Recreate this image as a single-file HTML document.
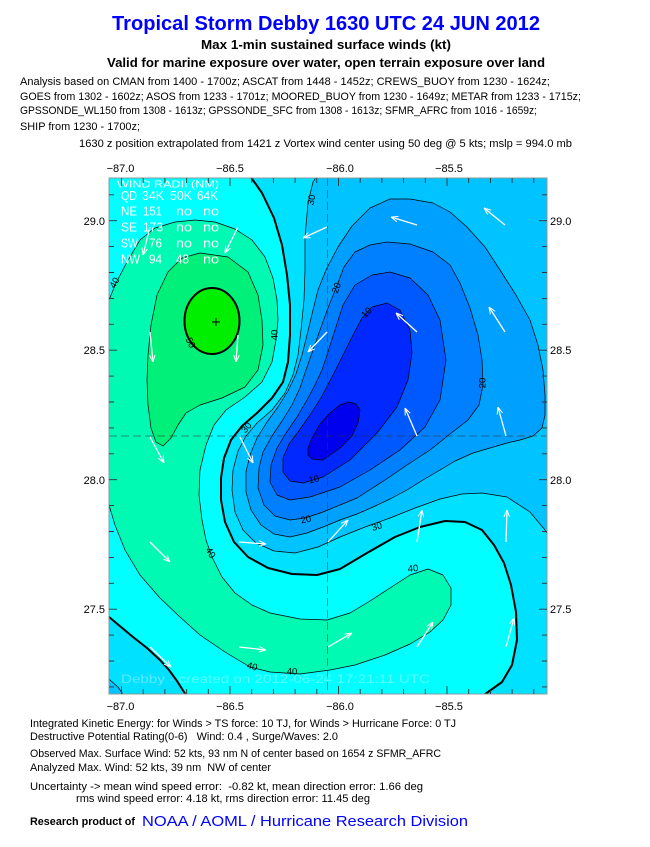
<!DOCTYPE html>
<html><head><meta charset="utf-8"><style>html,body{margin:0;padding:0;background:#fff}svg{display:block}</style></head>
<body>
<svg width="650" height="847" viewBox="0 0 650 847" xmlns="http://www.w3.org/2000/svg" font-family="'Liberation Sans', sans-serif">
<defs>
<clipPath id="pc"><rect x="109" y="178" width="438" height="516"/></clipPath>
<marker id="ah" viewBox="0 0 10 10" refX="10" refY="5" markerWidth="7" markerHeight="7" markerUnits="userSpaceOnUse" orient="auto"><path d="M0,1 L10,5 L0,9" fill="none" stroke="#fff" stroke-width="1.4"/></marker>
</defs>
<rect width="650" height="847" fill="#fff"/>

<!-- titles -->
<text x="112" y="30" font-size="20" font-weight="bold" fill="#0000ff" textLength="428" lengthAdjust="spacingAndGlyphs">Tropical Storm Debby 1630 UTC 24 JUN 2012</text>
<text x="201" y="49" font-size="13" font-weight="bold" fill="#000" textLength="250" lengthAdjust="spacingAndGlyphs">Max 1-min sustained surface winds (kt)</text>
<text x="107" y="67" font-size="13" font-weight="bold" fill="#000" textLength="438" lengthAdjust="spacingAndGlyphs">Valid for marine exposure over water, open terrain exposure over land</text>
<g font-size="11" fill="#000">
<text x="20" y="85" textLength="530" lengthAdjust="spacingAndGlyphs">Analysis based on CMAN from 1400 - 1700z; ASCAT from 1448 - 1452z; CREWS_BUOY from 1230 - 1624z;</text>
<text x="20" y="100" textLength="561" lengthAdjust="spacingAndGlyphs">GOES from 1302 - 1602z; ASOS from 1233 - 1701z; MOORED_BUOY from 1230 - 1649z; METAR from 1233 - 1715z;</text>
<text x="20" y="114" textLength="517" lengthAdjust="spacingAndGlyphs">GPSSONDE_WL150 from 1308 - 1613z; GPSSONDE_SFC from 1308 - 1613z; SFMR_AFRC from 1016 - 1659z;</text>
<text x="20" y="130" textLength="120" lengthAdjust="spacingAndGlyphs">SHIP from 1230 - 1700z;</text>
<text x="79" y="147" textLength="493" lengthAdjust="spacingAndGlyphs">1630 z position extrapolated from 1421 z Vortex wind center using 50 deg @ 5 kts; mslp = 994.0 mb</text>
</g>

<!-- plot fills -->
<g clip-path="url(#pc)">
<rect x="109" y="178" width="438" height="516" fill="#00ffff"/>
<polygon fill="#00e0ff" points="250,176 262,193 274,218 282,245 287,275 290,305 290,335 288,362 283,382 272,398 257,413 242,426 231,440 224,458 221,478 221,500 225,522 234,542 248,557 268,568 292,574 317,575 340,569 367,553 395,537 420,527 445,521 465,522 482,530 494,545 504,563 511,585 516,612 517,640 512,665 502,682 488,692 477,700 560,700 560,170 247,170"/>
<polygon fill="#00e0ff" points="100,605 109,617 121,627 133,637 147,648 160,660 169,670 177,681 184,692 189,700 100,700"/>
<polygon fill="#00c3ff" points="321,170 313,182 308,203 305,237 305,270 304,300 301,330 298,355 293,375 285,393 272,410 257,423 246,436 238,451 233,470 232,490 235,512 243,530 256,543 274,551 295,553 318,547 340,537 365,527 390,518 415,508 440,499 462,494 482,493 507,497 530,512 545,530 556,548 560,548 560,170"/>
<polygon fill="#00c3ff" points="100,672 110,680 118,687 127,700 100,700"/>
<polygon fill="#00a0ff" points="390,199 410,199 433,203 450,212 467,227 485,247 500,270 516,295 530,320 538,345 543,370 545,395 545,415 542,428 533,436 520,440 507,443 490,448 473,453 455,461 440,470 423,480 407,490 390,499 373,507 357,514 340,520 323,527 307,533 290,537 274,534 261,525 251,510 246,492 246,472 250,455 257,438 267,422 278,407 288,391 296,374 302,355 307,335 313,310 318,290 326,270 338,247 352,226 370,208"/>
<polygon fill="#0080ff" points="387,242 410,244 433,252 450,265 460,283 470,308 478,335 482,360 483,385 479,405 468,420 450,434 430,450 407,465 385,480 357,498 323,512 305,518 290,520 275,516 264,505 258,488 259,468 263,452 272,436 282,421 292,405 300,388 306,370 313,350 320,330 328,308 336,288 344,267 355,252 370,245"/>
<polygon fill="#0058ff" points="390,272 410,278 428,295 440,320 446,360 440,400 425,427 400,450 370,470 340,487 310,497 290,500 277,495 270,482 271,465 277,448 286,433 297,417 307,400 315,385 322,370 328,352 335,330 343,305 355,285 372,275"/>
<polygon fill="#0028ff" points="387,303 400,310 410,330 412,353 408,380 397,407 377,433 350,460 323,477 303,483 290,481 283,472 283,458 289,444 298,432 310,415 322,396 333,375 342,357 352,337 362,318 372,307"/>
<polygon fill="#0000ee" points="308,455 312,459 323,460 340,448 352,436 358,423 360,410 356,404 349,402 340,405 330,413 320,424 312,438 308,448"/>
<polygon fill="#00fab4" points="100,305 109,300 116,283 127,262 140,240 155,228 175,222 195,220 215,222 235,229 252,240 265,257 273,278 277,300 278,320 276,340 272,362 262,382 245,397 226,410 214,425 206,445 200,470 199,495 202,520 206,540 212,557 222,577 235,593 252,605 270,613 300,619 327,620 350,613 370,601 390,588 410,575 428,569 443,575 451,588 451,605 443,620 430,632 410,644 385,655 355,665 330,670 300,674 270,672 250,667 225,652 200,635 180,617 160,598 140,575 125,550 115,525 109,505 100,490"/>
<polygon fill="#00f07a" points="200,253 228,257 248,272 258,295 262,320 263,345 258,370 245,387 222,398 200,405 186,413 178,425 171,438 163,446 156,442 151,428 148,405 147,380 148,355 151,325 157,295 168,272 182,258"/>
<ellipse cx="212" cy="321" rx="27.5" ry="33" fill="#00ee00"/>

<!-- contour lines -->
<g fill="none" stroke="#000" stroke-width="0.7" stroke-linejoin="round">
<polyline points="321,170 313,182 308,203 305,237 305,270 304,300 301,330 298,355 293,375 285,393 272,410 257,423 246,436 238,451 233,470 232,490 235,512 243,530 256,543 274,551 295,553 318,547 340,537 365,527 390,518 415,508 440,499 462,494 482,493 507,497 530,512 545,530 556,548"/>
<polyline points="100,672 110,680 118,687 127,700"/>
<polygon points="390,199 410,199 433,203 450,212 467,227 485,247 500,270 516,295 530,320 538,345 543,370 545,395 545,415 542,428 533,436 520,440 507,443 490,448 473,453 455,461 440,470 423,480 407,490 390,499 373,507 357,514 340,520 323,527 307,533 290,537 274,534 261,525 251,510 246,492 246,472 250,455 257,438 267,422 278,407 288,391 296,374 302,355 307,335 313,310 318,290 326,270 338,247 352,226 370,208"/>
<polygon points="387,242 410,244 433,252 450,265 460,283 470,308 478,335 482,360 483,385 479,405 468,420 450,434 430,450 407,465 385,480 357,498 323,512 305,518 290,520 275,516 264,505 258,488 259,468 263,452 272,436 282,421 292,405 300,388 306,370 313,350 320,330 328,308 336,288 344,267 355,252 370,245"/>
<polygon points="390,272 410,278 428,295 440,320 446,360 440,400 425,427 400,450 370,470 340,487 310,497 290,500 277,495 270,482 271,465 277,448 286,433 297,417 307,400 315,385 322,370 328,352 335,330 343,305 355,285 372,275"/>
<polygon points="387,303 400,310 410,330 412,353 408,380 397,407 377,433 350,460 323,477 303,483 290,481 283,472 283,458 289,444 298,432 310,415 322,396 333,375 342,357 352,337 362,318 372,307"/>
<polygon points="308,455 312,459 323,460 340,448 352,436 358,423 360,410 356,404 349,402 340,405 330,413 320,424 312,438 308,448"/>
<polyline points="100,305 109,300 116,283 127,262 140,240 155,228 175,222 195,220 215,222 235,229 252,240 265,257 273,278 277,300 278,320 276,340 272,362 262,382 245,397 226,410 214,425 206,445 200,470 199,495 202,520 206,540 212,557 222,577 235,593 252,605 270,613 300,619 327,620 350,613 370,601 390,588 410,575 428,569 443,575 451,588 451,605 443,620 430,632 410,644 385,655 355,665 330,670 300,674 270,672 250,667 225,652 200,635 180,617 160,598 140,575 125,550 115,525 109,505 100,490"/>
<polygon points="200,253 228,257 248,272 258,295 262,320 263,345 258,370 245,387 222,398 200,405 186,413 178,425 171,438 163,446 156,442 151,428 148,405 147,380 148,355 151,325 157,295 168,272 182,258"/>
</g>
<g fill="none" stroke="#000" stroke-width="2" stroke-linejoin="round">
<polyline points="250,176 262,193 274,218 282,245 287,275 290,305 290,335 288,362 283,382 272,398 257,413 242,426 231,440 224,458 221,478 221,500 225,522 234,542 248,557 268,568 292,574 317,575 340,569 367,553 395,537 420,527 445,521 465,522 482,530 494,545 504,563 511,585 516,612 517,640 512,665 502,682 488,692 477,700"/>
<polyline points="100,605 109,617 121,627 133,637 147,648 160,660 169,670 177,681 184,692 189,700"/>
<ellipse cx="212" cy="321" rx="27.5" ry="33"/>
</g>
<path d="M212 322h8M216 318v8" stroke="#000" stroke-width="1"/>

<!-- contour labels -->
<g font-size="9.5" fill="#000" text-anchor="middle" dominant-baseline="central">
<text transform="translate(115,283) rotate(-60)">40</text>
<text transform="translate(275,335) rotate(-90)">40</text>
<text transform="translate(190,343) rotate(65)">50</text>
<text transform="translate(312,200) rotate(-80)">30</text>
<text transform="translate(337,288) rotate(-70)">20</text>
<text transform="translate(367,313) rotate(-45)">10</text>
<text transform="translate(483,383) rotate(-90)">20</text>
<text transform="translate(247,428) rotate(-50)">30</text>
<text transform="translate(314,480) rotate(-12)">10</text>
<text transform="translate(306,520) rotate(-12)">20</text>
<text transform="translate(377,527) rotate(-18)">30</text>
<text transform="translate(210,553) rotate(60)">40</text>
<text transform="translate(252,667) rotate(15)">40</text>
<text transform="translate(292,672)">40</text>
<text transform="translate(413,569) rotate(-5)">40</text>
</g>

<!-- dashed center lines -->
<g stroke="#333" stroke-width="0.8" stroke-dasharray="8,4" opacity="0.7">
<line x1="327.5" y1="178" x2="327.5" y2="694"/>
<line x1="109" y1="436" x2="547" y2="436"/>
</g>

<!-- wind arrows -->
<g stroke="#fff" stroke-width="1.3" marker-end="url(#ah)">
<line x1="150" y1="227" x2="143" y2="255"/>
<line x1="238" y1="227" x2="225" y2="253"/>
<line x1="327" y1="227" x2="303" y2="238"/>
<line x1="417" y1="225" x2="391" y2="217"/>
<line x1="505" y1="225" x2="484" y2="208"/>
<line x1="150" y1="332" x2="153" y2="362"/>
<line x1="238" y1="335" x2="236" y2="362"/>
<line x1="327" y1="332" x2="308" y2="352"/>
<line x1="417" y1="332" x2="396" y2="313"/>
<line x1="505" y1="332" x2="489" y2="307"/>
<line x1="150" y1="437" x2="164" y2="463"/>
<line x1="240" y1="437" x2="253" y2="463"/>
<line x1="417" y1="436" x2="405" y2="408"/>
<line x1="506" y1="436" x2="498" y2="407"/>
<line x1="150" y1="542" x2="170" y2="562"/>
<line x1="239" y1="542" x2="266" y2="544"/>
<line x1="328" y1="542" x2="348" y2="520"/>
<line x1="417" y1="542" x2="422" y2="510"/>
<line x1="506" y1="542" x2="507" y2="510"/>
<line x1="150" y1="647" x2="171" y2="667"/>
<line x1="239" y1="647" x2="266" y2="650"/>
<line x1="328" y1="647" x2="352" y2="633"/>
<line x1="417" y1="647" x2="433" y2="622"/>
<line x1="506" y1="647" x2="514" y2="618"/>
</g>

<!-- wind radii table -->
<g fill="#fff" font-size="12.5">
<text x="117" y="187.5" font-size="10.5" textLength="102" lengthAdjust="spacingAndGlyphs">WIND RADII (NM)</text>
<text x="121" y="200" textLength="16" lengthAdjust="spacingAndGlyphs">QD</text><text x="142" y="200" textLength="22" lengthAdjust="spacingAndGlyphs">34K</text><text x="170" y="200" textLength="22" lengthAdjust="spacingAndGlyphs">50K</text><text x="197" y="200" textLength="21" lengthAdjust="spacingAndGlyphs">64K</text>
<text x="121" y="215.5" textLength="16" lengthAdjust="spacingAndGlyphs">NE</text><text x="143" y="215.5" textLength="19" lengthAdjust="spacingAndGlyphs">151</text><text x="176" y="215.5" textLength="16" lengthAdjust="spacingAndGlyphs">no</text><text x="203" y="215.5" textLength="16" lengthAdjust="spacingAndGlyphs">no</text>
<text x="121" y="231.5" textLength="16" lengthAdjust="spacingAndGlyphs">SE</text><text x="143" y="231.5" textLength="20" lengthAdjust="spacingAndGlyphs">173</text><text x="176" y="231.5" textLength="16" lengthAdjust="spacingAndGlyphs">no</text><text x="203" y="231.5" textLength="16" lengthAdjust="spacingAndGlyphs">no</text>
<text x="121" y="247.5" textLength="17" lengthAdjust="spacingAndGlyphs">SW</text><text x="149" y="247.5" textLength="13" lengthAdjust="spacingAndGlyphs">76</text><text x="176" y="247.5" textLength="16" lengthAdjust="spacingAndGlyphs">no</text><text x="203" y="247.5" textLength="16" lengthAdjust="spacingAndGlyphs">no</text>
<text x="121" y="263.5" textLength="19" lengthAdjust="spacingAndGlyphs">NW</text><text x="149" y="263.5" textLength="13" lengthAdjust="spacingAndGlyphs">94</text><text x="176" y="263.5" textLength="13" lengthAdjust="spacingAndGlyphs">48</text><text x="203" y="263.5" textLength="16" lengthAdjust="spacingAndGlyphs">no</text>
</g>
<text x="121" y="683" font-size="12" fill="#fff" opacity="0.35" textLength="309" lengthAdjust="spacingAndGlyphs">Debby - created on 2012-06-24 17:21:11 UTC</text>
</g>

<!-- frame and ticks -->
<rect x="109" y="178" width="438" height="516" fill="none" stroke="#8a9aa0" stroke-width="1"/>
<path stroke="#333" stroke-width="0.9" fill="none" d="M121.5 694v-8M143.2 694v-5M164.9 694v-5M186.6 694v-5M208.3 694v-5M230 694v-8M251.7 694v-5M273.4 694v-5M295.1 694v-5M316.8 694v-5M338.5 694v-8M360.2 694v-5M381.9 694v-5M403.6 694v-5M425.3 694v-5M447 694v-8M468.7 694v-5M490.4 694v-5M512.1 694v-5M533.8 694v-5
M121.5 178v8M143.2 178v5M164.9 178v5M186.6 178v5M208.3 178v5M230 178v8M251.7 178v5M273.4 178v5M295.1 178v5M316.8 178v5M338.5 178v8M360.2 178v5M381.9 178v5M403.6 178v5M425.3 178v5M447 178v8M468.7 178v5M490.4 178v5M512.1 178v5M533.8 178v5
M109 194.8h5M109 220.7h8M109 246.6h5M109 272.5h5M109 298.4h5M109 324.3h5M109 350.2h8M109 376.1h5M109 402h5M109 427.9h5M109 453.8h5M109 479.7h8M109 505.6h5M109 531.5h5M109 557.4h5M109 583.3h5M109 609.2h8M109 635.1h5M109 661h5M109 686.9h5
M547 194.8h-5M547 220.7h-8M547 246.6h-5M547 272.5h-5M547 298.4h-5M547 324.3h-5M547 350.2h-8M547 376.1h-5M547 402h-5M547 427.9h-5M547 453.8h-5M547 479.7h-8M547 505.6h-5M547 531.5h-5M547 557.4h-5M547 583.3h-5M547 609.2h-8M547 635.1h-5M547 661h-5M547 686.9h-5"/>

<!-- axis labels -->
<g font-size="11" fill="#000" text-anchor="middle">
<text x="120.5" y="172">−87.0</text><text x="230" y="172">−86.5</text><text x="340" y="172">−86.0</text><text x="449" y="172">−85.5</text>
<text x="120.5" y="710">−87.0</text><text x="230" y="710">−86.5</text><text x="340" y="710">−86.0</text><text x="449" y="710">−85.5</text>
</g>
<g font-size="11" fill="#000" text-anchor="end">
<text x="105" y="225">29.0</text><text x="105" y="354">28.5</text><text x="105" y="484">28.0</text><text x="105" y="613">27.5</text>
</g>
<g font-size="11" fill="#000">
<text x="550" y="225">29.0</text><text x="550" y="354">28.5</text><text x="550" y="484">28.0</text><text x="550" y="613">27.5</text>
</g>

<!-- bottom text -->
<g font-size="11" fill="#000">
<text x="30" y="727" textLength="426" lengthAdjust="spacingAndGlyphs">Integrated Kinetic Energy: for Winds &gt; TS force: 10 TJ, for Winds &gt; Hurricane Force: 0 TJ</text>
<text x="30" y="740" textLength="308" lengthAdjust="spacingAndGlyphs" xml:space="preserve">Destructive Potential Rating(0-6)   Wind: 0.4 , Surge/Waves: 2.0</text>
<text x="30" y="757" textLength="411" lengthAdjust="spacingAndGlyphs">Observed Max. Surface Wind: 52 kts, 93 nm N of center based on 1654 z SFMR_AFRC</text>
<text x="30" y="771" textLength="241" lengthAdjust="spacingAndGlyphs" xml:space="preserve">Analyzed Max. Wind: 52 kts, 39 nm  NW of center</text>
<text x="30" y="790" textLength="393" lengthAdjust="spacingAndGlyphs" xml:space="preserve">Uncertainty -&gt; mean wind speed error:  -0.82 kt, mean direction error: 1.66 deg</text>
<text x="76" y="802" textLength="294" lengthAdjust="spacingAndGlyphs">rms wind speed error: 4.18 kt, rms direction error: 11.45 deg</text>
</g>
<text x="30" y="825" font-size="11" font-weight="bold" fill="#000" textLength="105" lengthAdjust="spacingAndGlyphs">Research product of</text>
<text x="142" y="826" font-size="15" fill="#0000ff" textLength="326" lengthAdjust="spacingAndGlyphs">NOAA / AOML / Hurricane Research Division</text>
</svg>
</body></html>
